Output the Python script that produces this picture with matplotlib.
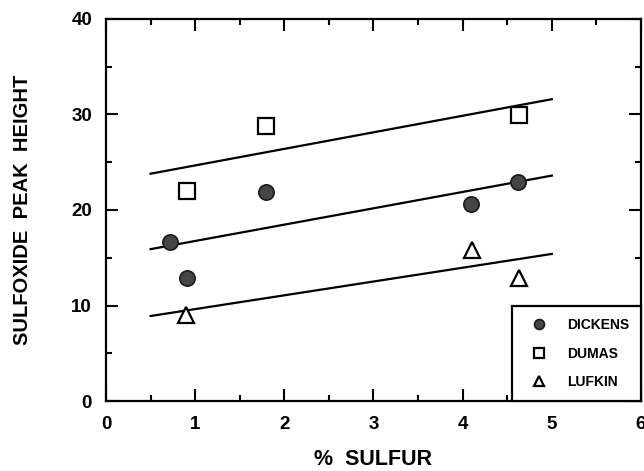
import numpy as np
import matplotlib
matplotlib.use('Agg')
import matplotlib.pyplot as plt
from matplotlib.ticker import MultipleLocator

plt.rcParams['font.family'] = ['Liberation Sans', 'DejaVu Sans']
plt.rcParams['font.weight'] = 'bold'

# % sulfur vs sulfoxide peak height for three crudes
dickens_x = [0.72, 0.91, 1.80, 4.09, 4.62]
dickens_y = [16.7, 12.9, 21.9, 20.6, 22.9]
dumas_x = [0.91, 1.80, 4.63]
dumas_y = [22.0, 28.8, 29.9]
lufkin_x = [0.90, 4.10, 4.63]
lufkin_y = [9.0, 15.8, 12.9]

# fitted lines, endpoints at x = 0.5 and x = 5.0
fit_x = [0.5, 5.0]
fit_dumas = [23.8, 31.6]
fit_dickens = [15.9, 23.6]
fit_lufkin = [8.9, 15.4]

fig = plt.figure(figsize=(6.44, 4.71), dpi=100)
ax = fig.add_axes([0.1646, 0.1486, 0.8307, 0.8111])

for fy in (fit_dumas, fit_dickens, fit_lufkin):
    ax.plot(fit_x, fy, color='black', lw=1.6, zorder=2)

ax.plot(dickens_x, dickens_y, 'o', ms=11, mfc='#454545', mec='#1a1a1a', mew=1.2,
        label='DICKENS', zorder=3)
ax.plot(dumas_x, dumas_y, 's', ms=11, mfc='white', mec='black', mew=1.6,
        label='DUMAS', zorder=3)
ax.plot(lufkin_x, lufkin_y, '^', ms=11, mfc='white', mec='black', mew=1.6,
        label='LUFKIN', zorder=3)

ax.set_xlim(0, 6)
ax.set_ylim(0, 40)
ax.xaxis.set_major_locator(MultipleLocator(1))
ax.xaxis.set_minor_locator(MultipleLocator(0.5))
ax.yaxis.set_major_locator(MultipleLocator(10))
ax.yaxis.set_minor_locator(MultipleLocator(5))
ax.tick_params(which='both', direction='in', top=True, right=True, width=1.5)
ax.tick_params(which='major', length=8.5, labelsize=13.5)
ax.tick_params(axis='x', which='major', pad=11)
ax.tick_params(axis='y', which='major', pad=10)
ax.tick_params(which='minor', length=4.5)
for sp in ax.spines.values():
    sp.set_linewidth(1.6)

ax.set_xlabel('%  SULFUR', fontsize=15.5, fontweight='bold', labelpad=11)
ax.set_ylabel('SULFOXIDE  PEAK  HEIGHT', fontsize=14.5, fontweight='bold', labelpad=28)

leg = ax.legend(loc='lower right', borderaxespad=0, fancybox=False, framealpha=1,
                edgecolor='black', markerscale=0.65, labelspacing=1.05,
                borderpad=0.85, handlelength=2.2, handletextpad=0.9,
                prop={'weight': 'bold', 'size': 10})
leg.get_frame().set_linewidth(1.6)

fig.savefig('out.png', dpi=100)
